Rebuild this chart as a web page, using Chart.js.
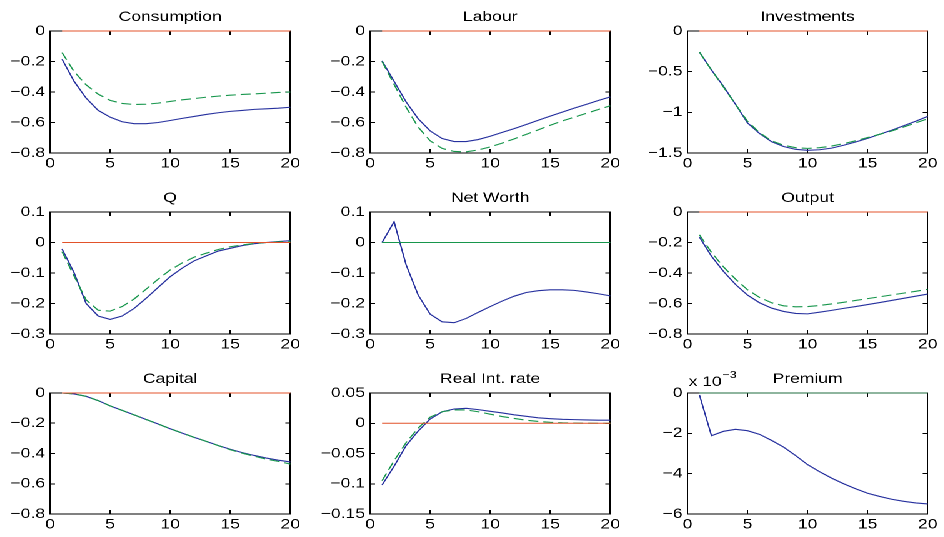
<!DOCTYPE html>
<html>
<head>
<meta charset="utf-8">
<script src="https://cdn.jsdelivr.net/npm/chart.js@4"></script>
<style>
  html, body { margin: 0; padding: 0; background: #fff; }
  body { width: 944px; height: 537px; overflow: hidden; position: relative; }
  /* the figure is a bit wider than tall MATLAB output, so stretch the whole grid */
  #stage { position: absolute; left: 0; top: 0; width: 755.2px; height: 537px; transform: scaleX(1.25); transform-origin: 0 0; }
  #stage canvas { position: absolute; }
</style>
</head>
<body>
<div id="stage"></div>
<script>
// ============================================================
// Impulse responses, 3x3 grid (MATLAB subplot look)
// ============================================================

// ---- data -------------------------------------------------
const periods = [1, 2, 3, 4, 5, 6, 7, 8, 9, 10, 11, 12, 13, 14, 15, 16, 17, 18, 19, 20];
const xTicks = [0, 5, 10, 15, 20];
const zeroLine = [0, 0, 0, 0, 0, 0, 0, 0, 0, 0, 0, 0, 0, 0, 0, 0, 0, 0, 0, 0];

const consumptionBase = [-0.185, -0.33, -0.44, -0.52, -0.565, -0.595, -0.608, -0.608, -0.60, -0.587, -0.573, -0.56, -0.547, -0.536, -0.527, -0.521, -0.514, -0.51, -0.506, -0.50];
const consumptionAlt  = [-0.142, -0.266, -0.353, -0.414, -0.455, -0.475, -0.482, -0.48, -0.473, -0.462, -0.451, -0.443, -0.434, -0.427, -0.421, -0.416, -0.412, -0.408, -0.403, -0.40];

const labourBase = [-0.196, -0.33, -0.465, -0.575, -0.655, -0.705, -0.725, -0.725, -0.712, -0.69, -0.665, -0.64, -0.613, -0.585, -0.558, -0.532, -0.506, -0.481, -0.456, -0.432];
const labourAlt  = [-0.2, -0.35, -0.5, -0.63, -0.72, -0.77, -0.79, -0.792, -0.78, -0.76, -0.735, -0.707, -0.678, -0.648, -0.618, -0.59, -0.565, -0.54, -0.515, -0.49];

const investBase = [-0.26, -0.48, -0.68, -0.9, -1.13, -1.26, -1.36, -1.42, -1.455, -1.467, -1.46, -1.44, -1.405, -1.365, -1.32, -1.27, -1.22, -1.165, -1.11, -1.05];
const investAlt  = [-0.26, -0.48, -0.69, -0.9, -1.11, -1.25, -1.35, -1.405, -1.435, -1.443, -1.435, -1.415, -1.385, -1.35, -1.31, -1.27, -1.23, -1.18, -1.13, -1.08];

const qBase = [-0.021, -0.099, -0.2, -0.241, -0.252, -0.241, -0.216, -0.183, -0.147, -0.112, -0.084, -0.06, -0.044, -0.028, -0.019, -0.01, -0.004, 0, 0.003, 0.006];
const qAlt  = [-0.03, -0.11, -0.188, -0.222, -0.225, -0.21, -0.185, -0.153, -0.12, -0.09, -0.067, -0.048, -0.035, -0.023, -0.014, -0.008, -0.003, 0, 0.002, 0.004];

const netWorthBase = [0, 0.068, -0.073, -0.172, -0.235, -0.26, -0.263, -0.249, -0.229, -0.21, -0.192, -0.176, -0.164, -0.158, -0.155, -0.155, -0.157, -0.162, -0.168, -0.175];

const outputBase = [-0.165, -0.29, -0.39, -0.475, -0.545, -0.595, -0.63, -0.652, -0.665, -0.668, -0.657, -0.645, -0.632, -0.62, -0.607, -0.594, -0.58, -0.566, -0.552, -0.538];
const outputAlt  = [-0.15, -0.265, -0.36, -0.44, -0.51, -0.56, -0.595, -0.615, -0.622, -0.62, -0.613, -0.603, -0.592, -0.58, -0.568, -0.556, -0.544, -0.532, -0.52, -0.507];

const capitalBase = [0, -0.006, -0.022, -0.05, -0.085, -0.115, -0.145, -0.175, -0.205, -0.236, -0.265, -0.293, -0.32, -0.347, -0.372, -0.394, -0.413, -0.43, -0.444, -0.456];
const capitalAlt  = [0, -0.006, -0.022, -0.05, -0.085, -0.115, -0.145, -0.175, -0.205, -0.236, -0.265, -0.293, -0.32, -0.348, -0.375, -0.398, -0.418, -0.437, -0.452, -0.47];

const rateBase = [-0.102, -0.071, -0.037, -0.013, 0.007, 0.019, 0.0235, 0.0247, 0.0225, 0.0197, 0.017, 0.014, 0.0114, 0.009, 0.0076, 0.0065, 0.006, 0.0054, 0.005, 0.005];
const rateAlt  = [-0.095, -0.062, -0.032, -0.008, 0.01, 0.019, 0.022, 0.022, 0.019, 0.015, 0.011, 0.008, 0.005, 0.003, 0.0015, 0.0007, 0.0003, 0.0001, 0, 0];

// premium is in units of 1e-3 (axis shows "x 10^-3")
const premiumBase = [-0.1, -2.12, -1.9, -1.8, -1.87, -2.05, -2.35, -2.68, -3.1, -3.55, -3.9, -4.22, -4.5, -4.75, -4.97, -5.13, -5.27, -5.37, -5.45, -5.5];

// y tick sets
const ticksLevel   = [0, -0.2, -0.4, -0.6, -0.8];
const ticksInvest  = [0, -0.5, -1, -1.5];
const ticksQ       = [0.1, 0, -0.1, -0.2, -0.3];
const ticksRate    = [0.05, 0, -0.05, -0.1, -0.15];
const ticksPremium = [0, -2, -4, -6];

// ---- look -------------------------------------------------
const BLUE = '#26309e';
const GREEN = '#17964c';
const RED = '#e2522a';
const DARK_GREEN = '#1c6b3c';

Chart.defaults.font.family = "'Liberation Sans', Arial, sans-serif";
Chart.defaults.font.size = 14;
Chart.defaults.color = '#000';

const panels = [
  { title: 'Consumption',    ticks: ticksLevel,   base: consumptionBase, alt: consumptionAlt, ref: RED },
  { title: 'Labour',         ticks: ticksLevel,   base: labourBase,      alt: labourAlt,      ref: RED },
  { title: 'Investments',    ticks: ticksInvest,  base: investBase,      alt: investAlt,      ref: RED },
  { title: 'Q',              ticks: ticksQ,       base: qBase,           alt: qAlt,           ref: RED },
  { title: 'Net Worth',      ticks: ticksQ,       base: netWorthBase,    alt: null,           ref: GREEN },
  { title: 'Output',         ticks: ticksLevel,   base: outputBase,      alt: outputAlt,      ref: RED },
  { title: 'Capital',        ticks: ticksLevel,   base: capitalBase,     alt: capitalAlt,     ref: RED },
  { title: 'Real Int. rate', ticks: ticksRate,    base: rateBase,        alt: rateAlt,        ref: RED },
  { title: 'Premium',        ticks: ticksPremium, base: premiumBase,     alt: null,           ref: DARK_GREEN, exponent: '\u22123' }
];

// grid geometry (stage coords, x is pre-stretch)
const COL_LEFT = [40, 296, 550];
const ROW_TOP = [31, 212, 393];
const ROW_H = [122, 122, 121];
const PLOT_W = 194;
const Y_AXIS_W = 46;
const TITLE_H = 28;
const X_AXIS_H = 22;
const PAD_R = 12;
const TICK_IN = -4; // negative tick length = ticks point into the plot

function fmtTick(v) {
  const s = String(Math.round(v * 1000) / 1000);
  return s.replace('-', '\u2212');
}

// "x 10^-3" multiplier above the y axis
function exponentPlugin(exp) {
  return {
    id: 'exponent',
    afterDraw(chart) {
      const { ctx, chartArea: a } = chart;
      ctx.save();
      ctx.fillStyle = '#000';
      ctx.textBaseline = 'alphabetic';
      ctx.textAlign = 'left';
      ctx.font = "14px 'Liberation Sans', Arial, sans-serif";
      const base = 'x 10';
      ctx.fillText(base, a.left + 1, a.top - 7);
      const w = ctx.measureText(base).width;
      ctx.font = "10px 'Liberation Sans', Arial, sans-serif";
      ctx.fillText(exp, a.left + 1 + w + 0.5, a.top - 15);
      ctx.restore();
    }
  };
}

// axis helpers: every side gets a black border and inward tick marks
const boxGrid = { display: true, drawOnChartArea: false, drawTicks: true, tickLength: TICK_IN, color: '#000', lineWidth: 1 };
const boxBorder = { display: true, color: '#000', width: 1 };

function xAxis(position, showLabels) {
  return {
    type: 'linear',
    position: position,
    min: 0,
    max: 20,
    grid: boxGrid,
    border: boxBorder,
    afterBuildTicks: s => { s.ticks = xTicks.map(v => ({ value: v })); },
    afterFit: s => { s.height = showLabels ? X_AXIS_H : 0; },
    ticks: { display: showLabels, autoSkip: false, maxRotation: 0, padding: 2 - TICK_IN, color: '#000', callback: v => fmtTick(v) }
  };
}

function yAxis(position, yTicks, showLabels) {
  return {
    type: 'linear',
    position: position,
    min: Math.min(...yTicks),
    max: Math.max(...yTicks),
    grid: boxGrid,
    border: boxBorder,
    afterBuildTicks: s => { s.ticks = yTicks.map(v => ({ value: v })); },
    afterFit: s => { s.width = showLabels ? Y_AXIS_W : 0; },
    ticks: { display: showLabels, autoSkip: false, padding: 4 - TICK_IN, color: '#000', callback: v => fmtTick(v) }
  };
}

const stage = document.getElementById('stage');

panels.forEach((p, i) => {
  const col = i % 3;
  const row = Math.floor(i / 3);
  const canvas = document.createElement('canvas');
  const w = Y_AXIS_W + PLOT_W + PAD_R;
  const h = TITLE_H + ROW_H[row] + X_AXIS_H;
  canvas.width = w;
  canvas.height = h;
  canvas.style.left = (COL_LEFT[col] - Y_AXIS_W) + 'px';
  canvas.style.top = (ROW_TOP[row] - TITLE_H) + 'px';
  canvas.style.width = w + 'px';
  canvas.style.height = h + 'px';
  stage.appendChild(canvas);

  const line = (data, color, dash) => ({
    data: data,
    borderColor: color,
    borderWidth: 1.1,
    borderDash: dash || [],
    pointRadius: 0,
    tension: 0,
    fill: false,
    clip: 4
  });

  // first dataset is drawn on top
  const datasets = [line(zeroLine, p.ref)];
  if (p.alt) datasets.push(line(p.alt, GREEN, [8, 4]));
  datasets.push(line(p.base, BLUE));

  const plugins = [];
  if (p.exponent) plugins.push(exponentPlugin(p.exponent));

  new Chart(canvas.getContext('2d'), {
    type: 'line',
    data: { labels: periods, datasets: datasets },
    plugins: plugins,
    options: {
      responsive: false,
      devicePixelRatio: 2,
      animation: false,
      layout: { padding: { left: 0, right: PAD_R, top: 0, bottom: 0 } },
      plugins: {
        legend: { display: false },
        tooltip: { enabled: false },
        title: {
          display: true,
          fullSize: false,
          text: p.title,
          color: '#000',
          font: { size: 14, weight: 'normal', lineHeight: 1 },
          padding: { top: 7, bottom: 7 }
        }
      },
      scales: {
        x: xAxis('bottom', true),
        xTop: xAxis('top', false),
        y: yAxis('left', p.ticks, true),
        yRight: yAxis('right', p.ticks, false)
      }
    }
  });
});
</script>
</body>
</html>
